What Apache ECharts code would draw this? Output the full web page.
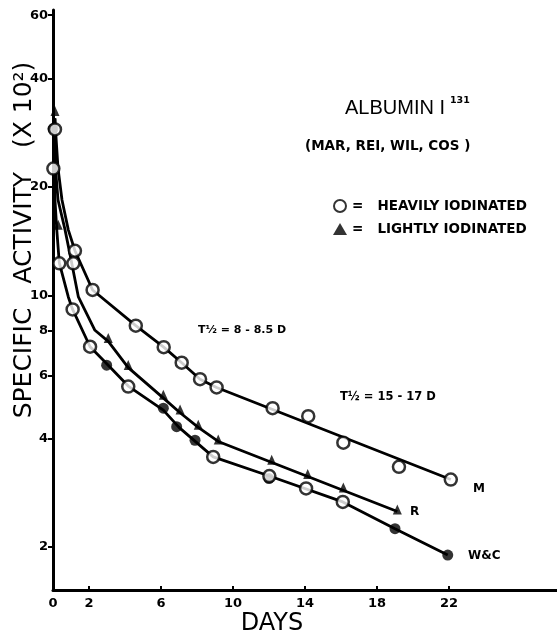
<!DOCTYPE html>
<html><head><meta charset="utf-8">
<script src="https://cdn.jsdelivr.net/npm/echarts@6/dist/echarts.min.js"></script>
<style>html,body{margin:0;padding:0;background:#fff}#c{width:557px;height:633px}</style>
</head><body><div id="c"></div>
<script>
// Axis ticks
const xTicks = [0, 2, 6, 10, 14, 18, 22];
const yTicks = [2, 4, 6, 8, 10, 20, 40, 60];

// Curves (days, specific activity x10^2)
const lineM = [[0.1,31],[0.28,22.5],[0.5,18.4],[0.85,15.2],[1.22,13.3],[2.2,10.35],[4.6,8.24],[6.15,7.18],[7.15,6.5],[8.17,5.85],[9.09,5.55],[22.1,3.08]];
const lineR = [[0.1,31],[0.14,22.5],[0.28,18.4],[0.67,15.2],[1.04,12.3],[1.41,9.9],[2.33,8.0],[3.07,7.45],[4.18,6.3],[6.2,5.15],[7.06,4.72],[8.07,4.3],[9.18,3.93],[19.13,2.51]];
const lineWC = [[0.1,31],[0.11,18.4],[0.21,15.2],[0.35,12.3],[0.85,9.9],[1.09,9.14],[2.06,7.2],[3.0,6.45],[4.18,5.6],[6.13,4.8],[7.0,4.3],[8.9,3.56],[12.02,3.15],[16.1,2.67],[19.0,2.25],[21.93,1.9]];

// Plotted points
const openCircles = [[0.11,28.9],[0.02,22.5],[1.22,13.3],[2.2,10.35],[4.6,8.24],[6.15,7.18],[7.15,6.5],[8.17,5.85],[9.09,5.55],[12.2,4.86],[14.18,4.62],[16.13,3.9],[19.22,3.34],[22.1,3.08],
  [0.35,12.27],[1.13,12.27],[1.09,9.14],[2.06,7.2],[4.18,5.58],[8.9,3.56],[12.02,3.15],[14.06,2.91],[16.1,2.67]];
const filledCircles = [[0.0,29],[2.98,6.4],[6.13,4.86],[6.87,4.32],[7.89,3.96],[12.0,3.1],[19.0,2.25],[21.93,1.9]];
const triangles = [[0.11,32.1],[0.29,15.5],[3.07,7.52],[4.18,6.33],[6.13,5.23],[7.06,4.76],[8.07,4.32],[9.18,3.93],[12.15,3.45],[14.15,3.15],[16.13,2.89],[19.13,2.51]];

const chart = echarts.init(document.getElementById('c'), null, {renderer:'canvas'});
const F = 'Liberation Sans, Arial, sans-serif';
const D = 'DejaVu Sans, sans-serif';
const lineStyle = {color:'#000', width:2.8};
function lineSeries(name, data){
  return {name, type:'line', data, smooth:false, symbol:'none', lineStyle, z:2, silent:true};
}
function label(text, x, y, size, extra){
  return Object.assign({type:'text', x, y, style:{text, fontFamily:D, fontSize:size, fontWeight:'bold', fill:'#000', textAlign:'left', textVerticalAlign:'middle'}}, extra||{});
}
chart.setOption({
  animation:false,
  backgroundColor:'#fff',
  grid:{left:53, right:0, top:10, bottom:43},
  xAxis:{type:'value', min:0, max:28,
    axisLine:{lineStyle:{color:'#000', width:3}},
    axisTick:{inside:true, length:4, lineStyle:{color:'#000', width:2}, customValues:xTicks.slice(1)},
    axisLabel:{customValues:xTicks, color:'#000', fontFamily:D, fontWeight:'bold', fontSize:13, margin:7},
    splitLine:{show:false}},
  yAxis:{type:'log', logBase:10, min:1.52, max:62,
    axisLine:{show:true, lineStyle:{color:'#000', width:3}},
    axisTick:{show:true, length:5, lineStyle:{color:'#000', width:2}, customValues:yTicks},
    axisLabel:{customValues:yTicks, color:'#000', fontFamily:D, fontWeight:'bold', fontSize:13, margin:5},
    splitLine:{show:false}, minorTick:{show:false}},
  legend:{data:['HEAVILY IODINATED','LIGHTLY IODINATED'], orient:'vertical', left:328, top:194,
    itemWidth:14, itemHeight:12, itemGap:9,
    formatter:n=>'=   '+n,
    textStyle:{color:'#000', fontFamily:D, fontWeight:'bold', fontSize:13.5}},
  series:[
    lineSeries('M', lineM), lineSeries('R', lineR), lineSeries('W&C', lineWC),
    {name:'filled', type:'scatter', data:filledCircles, symbol:'circle', symbolSize:11, itemStyle:{color:'#000'}, z:3},
    {name:'HEAVILY IODINATED', type:'scatter', data:openCircles, symbol:'circle', symbolSize:12,
      itemStyle:{color:'#fff', borderColor:'#000', borderWidth:2.5}, z:4},
    {name:'LIGHTLY IODINATED', type:'scatter', data:triangles, symbol:'triangle', symbolSize:[9,10], symbolOffset:[0,-2],
      itemStyle:{color:'#000'}, z:5}
  ],
  graphic:[
    {type:'text', x:24, y:240, rotation:Math.PI/2, style:{text:'SPECIFIC   ACTIVITY   (X 10²)', fontFamily:D, fontSize:25, fill:'#000', textAlign:'center', textVerticalAlign:'middle'}},
    {type:'text', x:272, y:624, style:{text:'DAYS', fontFamily:D, fontSize:24, fill:'#000', textAlign:'center', textVerticalAlign:'middle'}},
    {type:'text', x:345, y:108, style:{text:'ALBUMIN I', fontFamily:F, fontSize:20, fill:'#000', textAlign:'left', textVerticalAlign:'middle'}},
    label('131', 450, 101, 9.5),
    label('(MAR, REI, WIL, COS )', 305, 146, 13.5),
    label('T½ = 8 - 8.5 D', 198, 330, 11),
    label('T½ = 15 - 17 D', 340, 397, 11.5),
    label('M', 473, 489, 12),
    label('R', 410, 512, 12),
    label('W&C', 468, 556, 12)
  ]
});
</script></body></html>
